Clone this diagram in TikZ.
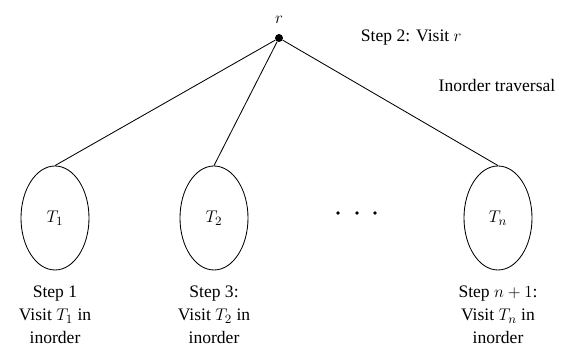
\documentclass[tikz,border=0pt]{standalone}
\usepackage{fontspec}
\setmainfont{Liberation Serif}
\usetikzlibrary{shapes.geometric,positioning}

\begin{document}
\begin{tikzpicture}[x=1cm,y=1cm,
  subtree/.style={draw,ellipse,line width=0.6pt,minimum width=1.7cm,minimum height=2.6cm,inner sep=0pt},
  vertex/.style={circle,fill,inner sep=0pt,minimum size=0.2cm},
  gapdot/.style={circle,fill,inner sep=0pt,minimum size=0.09cm},
  steptext/.style={align=center,anchor=north,font=\fontsize{12.5}{16.4}\selectfont},
  every node/.append style={font=\fontsize{12.5}{16.4}\selectfont}]
\path[use as bounding box] (0,0) rectangle (14.225,8.95);
\node[vertex] (root) at (6.975,8.00) {};
\node[above=0.12cm of root] (rlabel) {$r$};
\node[anchor=west] (visitr) at (8.90,8.00) {Step 2: Visit $r$};
\node (travlabel) at (12.425,6.825) {Inorder traversal};
\node[subtree] (t1) at (1.375,3.50) {$T_1$};
\node[subtree] (t2) at (5.350,3.50) {$T_2$};
\node[subtree] (tn) at (12.450,3.50) {$T_n$};
\foreach \dx [count=\i] in {8.45,8.925,9.375}
  \node[gapdot] (dot\i) at (\dx,3.625) {};
\draw[line width=0.6pt] (root) -- (t1.north);
\draw[line width=0.6pt] (root) -- (t2.north);
\draw[line width=0.6pt] (root) -- (tn.north);
\node[steptext] (step1) at (1.375,1.92) {Step 1\\Visit $T_1$ in\\inorder};
\node[steptext] (step3) at (5.350,1.92) {Step 3:\\Visit $T_2$ in\\inorder};
\node[steptext] (stepn) at (12.450,1.92) {Step $n+1$:\\Visit $T_n$ in\\inorder};
\end{tikzpicture}
\end{document}
